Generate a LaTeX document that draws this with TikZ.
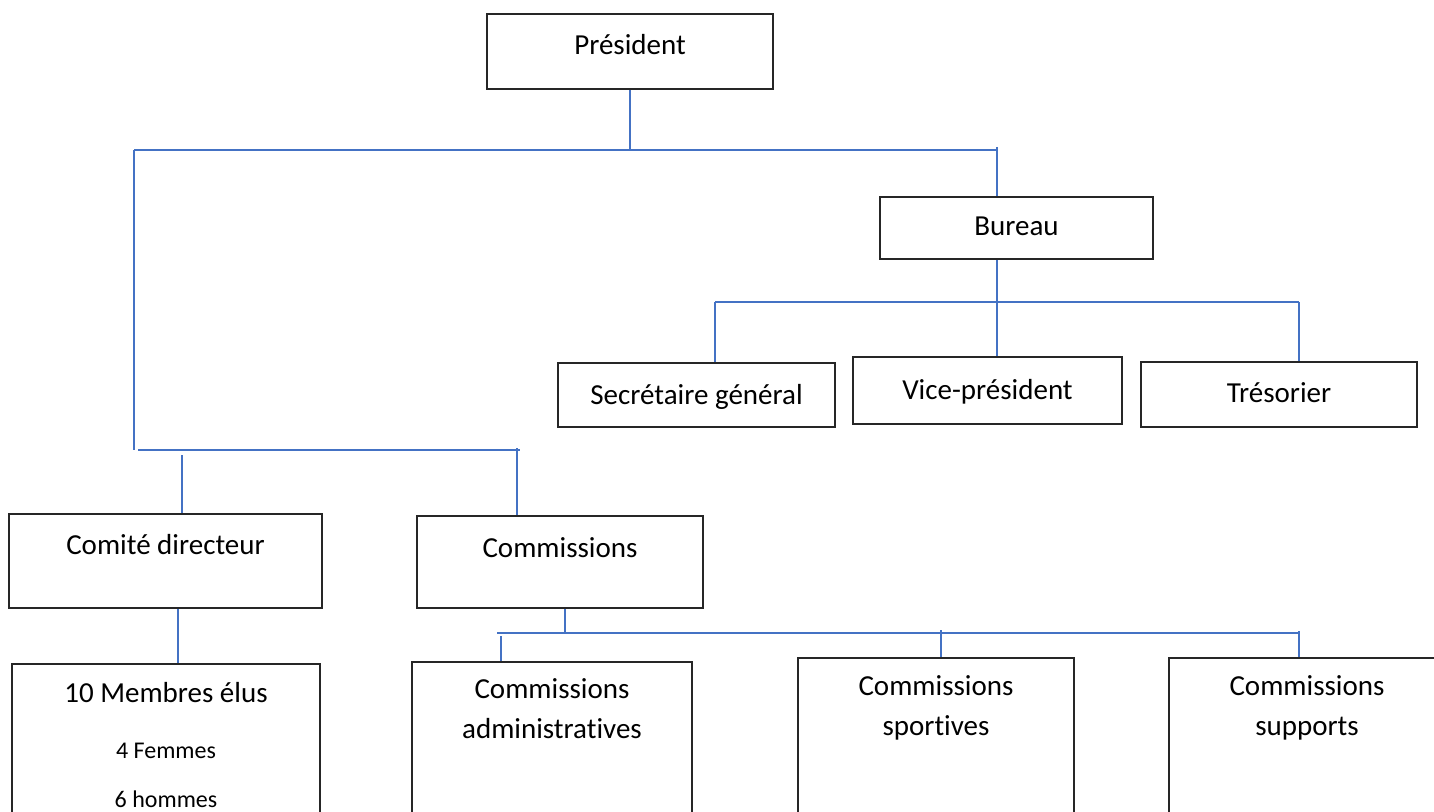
\documentclass[tikz,border=0pt]{standalone}
\usepackage{fontspec}
\setmainfont{Carlito}[Ligatures=NoCommon]
\definecolor{linkblue}{RGB}{68,114,196}
\tikzset{
  box/.style={draw=black!85, line width=1pt, inner sep=0pt},
  link/.style={draw=linkblue, line width=0.8pt},
  lbl/.style={anchor=base, inner sep=0pt, font=\fontsize{14.5}{20}\selectfont, align=center},
  sml/.style={anchor=base, inner sep=0pt, font=\fontsize{12}{14}\selectfont}
}
\begin{document}
\begin{tikzpicture}[x=0.5pt, y=-0.5pt]
    \useasboundingbox (0,0) rectangle (1434,812);
    \clip (0,0) rectangle (1434,812);

    \node[box, minimum width=143pt, minimum height=37.5pt] (pres) at (630,51.5) {};
    \node[box, minimum width=136.5pt, minimum height=31pt] (bureau) at (1016.5,228) {};
    \node[box, minimum width=138.5pt, minimum height=32pt] (secr) at (696.5,395) {};
    \node[box, minimum width=134.5pt, minimum height=33.5pt] (vice) at (987.5,390.5) {};
    \node[box, minimum width=138pt, minimum height=32.5pt] (treso) at (1279,394.5) {};
    \node[box, minimum width=156.5pt, minimum height=47pt] (comite) at (165.5,561) {};
    \node[box, minimum width=143pt, minimum height=46pt] (comm) at (560,562) {};
    \node[box, minimum width=154pt, minimum height=118pt] (membres) at (166,782) {};
    \node[box, minimum width=140pt, minimum height=119pt] (admin) at (552,781) {};
    \node[box, minimum width=138pt, minimum height=121pt] (sport) at (936,779) {};
    \node[box, minimum width=165.5pt, minimum height=121pt] (supp) at (1334.5,779) {};

    % texts, at their baselines (last line for two lines)
    \node[lbl] (tpres) at (630,55) {Président};
    \node[lbl] (tbureau) at (1016.5,236) {Bureau};
    \node[lbl] (tsecr) at (696.5,405) {Secrétaire général};
    \node[lbl] (tvice) at (987.5,400) {Vice-président};
    \node[lbl] (ttreso) at (1279,402) {Trésorier};
    \node[lbl] (tcomite) at (165.5,554) {Comité directeur};
    \node[lbl] (tcomm) at (560,557) {Commissions};
    \node[lbl] (tmembres) at (166,702) {10 Membres élus};
    \node[sml] (tfemmes) at (166,758) {4 Femmes};
    \node[sml] (thommes) at (166,807) {6 hommes};
    \node[lbl] (tadmin) at (552,738) {Commissions\\administratives};
    \node[lbl] (tsport) at (936,735) {Commissions\\sportives};
    \node[lbl] (tsupp) at (1307,735) {Commissions\\supports};

    % bus lines
    \coordinate (topL) at (134,150);
    \coordinate (topR) at (997,147);
    \coordinate (burL) at (715,302);
    \coordinate (burM) at (997,302);
    \coordinate (burR) at (1299,302);
    \coordinate (midL) at (134,450);
    \coordinate (midR) at (520,450);
    \coordinate (midA) at (182,455);
    \coordinate (midB) at (517,448);
    \coordinate (botL) at (497,633);
    \coordinate (botA) at (501,636);
    \coordinate (botB) at (941,630);
    \coordinate (botC) at (1299,631);

    \draw[link] (pres.south) -- (pres.south |- topL);
    \draw[link] (topL) -- (topR |- topL);
    \draw[link] (topR) -- (topR |- bureau.north);
    \draw[link] (topL) -- (midL);

    \draw[link] ([xshift=-9.75pt]bureau.south) -- (burM);
    \draw[link] (burL) -- (burR);
    \draw[link] (burL) -- (burL |- secr.north);
    \draw[link] (burM) -- (burM |- vice.north);
    \draw[link] (burR) -- (burR |- treso.north);

    \draw[link] ([xshift=2pt]midL) -- (midR);
    \draw[link] (midA) -- (midA |- comite.north);
    \draw[link] (midB) -- (midB |- comm.north);
    \draw[link] ([xshift=6.25pt]comite.south) -- ([xshift=6.25pt]comite.south |- membres.north);

    \draw[link] ([xshift=2.5pt]comm.south) -- ([xshift=2.5pt]comm.south |- botL);
    \draw[link] (botL) -- (botC |- botL);
    \draw[link] (botA) -- (botA |- admin.north);
    \draw[link] (botB) -- (botB |- sport.north);
    \draw[link] (botC) -- (botC |- supp.north);
  \end{tikzpicture}
\end{document}
